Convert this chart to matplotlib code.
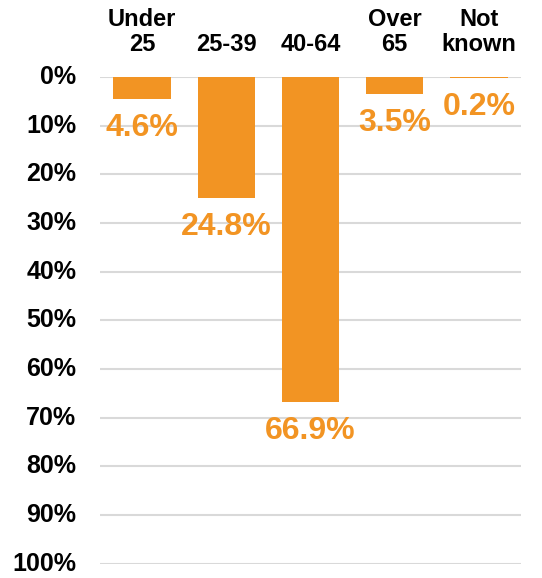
import matplotlib.pyplot as plt
from matplotlib.ticker import FuncFormatter

plt.rcParams["font.family"] = ["Liberation Sans", "DejaVu Sans"]
plt.rcParams["font.weight"] = "bold"

age_groups = ["Under\n25", "25-39", "40-64", "Over\n65", "Not\nknown"]
shares = [4.6, 24.8, 66.9, 3.5, 0.2]
y_ticks = [0, 10, 20, 30, 40, 50, 60, 70, 80, 90, 100]

orange = "#F29423"

fig = plt.figure(figsize=(5.42, 5.78), dpi=100)
ax = fig.add_axes([0.1845, 0.025, 0.7768, 0.8418])

x = range(len(age_groups))
bars = ax.bar(x, shares, width=0.68, color=orange, zorder=3)

# bars hang down from the top, so flip the axis
ax.set_ylim(100, 0)
ax.set_xlim(-0.5, len(age_groups) - 0.5)
ax.set_yticks(y_ticks)
ax.yaxis.set_major_formatter(FuncFormatter(lambda v, _: f"{v:.0f}%"))
ax.yaxis.grid(True, color="#d9d9d9", linewidth=1.5, zorder=0)
ax.tick_params(axis="y", length=0, labelsize=18, pad=17)
for lbl in ax.get_yticklabels():
    lbl.set_verticalalignment("center")

ax.xaxis.tick_top()
ax.set_xticks(list(x))
ax.set_xticklabels(age_groups, fontsize=17, linespacing=1.1)
ax.tick_params(axis="x", length=0, pad=15)

for spine in ax.spines.values():
    spine.set_visible(False)

for bar, val in zip(bars, shares):
    ax.annotate(f"{val}%", (bar.get_x() + bar.get_width() / 2, val),
                xytext=(0, -10), textcoords="offset points",
                ha="center", va="top", fontsize=23, color=orange,
                fontweight="bold")

fig.savefig("out.png", dpi=100)
